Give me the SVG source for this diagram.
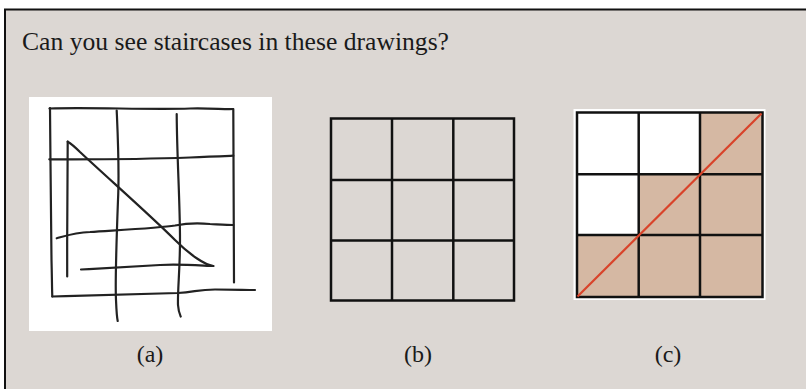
<svg xmlns="http://www.w3.org/2000/svg" width="806" height="389" viewBox="0 0 806 389">
<style>
.t{font-family:"Liberation Serif","Times New Roman",serif;fill:#1a1a1a}
.hand{fill:none;stroke:#222;stroke-width:2.2;stroke-linecap:round;stroke-linejoin:round}
.grid{fill:none;stroke:#111;stroke-width:2.5}
</style>
<rect x="0" y="0" width="806" height="389" fill="#ffffff"/>
<rect x="5" y="9.5" width="810" height="390" fill="#dcd7d3" stroke="#111" stroke-width="2"/>
<text class="t" x="22" y="49.5" font-size="24.5" textLength="427" lengthAdjust="spacingAndGlyphs">Can you see staircases in these drawings?</text>

<g id="panel-a">
<rect x="29" y="97" width="243" height="234" fill="#ffffff"/>
<path class="hand" d="M49.5,108.5 C90,107 150,110 190,108.5 C210,108 225,109.5 233,109"/>
<path class="hand" d="M50,108 C50.5,160 51,230 51.5,260 C52,280 52,290 52.3,296.5"/>
<path class="hand" d="M52.3,296.5 C100,295 150,294 178,293 C195,292 198,289.5 215,289.5 C235,289.5 245,290 255,290"/>
<path class="hand" d="M233.3,109 C233.5,160 234,220 234,282.5"/>
<path class="hand" d="M116.7,110.5 C118,140 119.5,170 118,200 C116.5,240 115,280 116,300 C116.5,312 117,318 117.7,321"/>
<path class="hand" d="M176.7,114 C177,160 180,200 180,240 C180,270 177.5,290 178,305 C178.5,312 180,315 180.7,316.5"/>
<path class="hand" d="M49.3,159.3 C100,159.5 150,159 190,157.5 C210,156.5 225,156 233.3,155.7"/>
<path class="hand" d="M56.7,238.3 C65,236 75,232.5 90,232 C120,230 160,228 175,225.5 C185,223.5 195,222.5 210,224 C220,224.5 228,225 233.3,225"/>
<path class="hand" d="M67.7,141.7 C67.5,180 67,230 67.2,276.5"/>
<path class="hand" d="M67.7,141.7 C72,144 75,147 80,152 C110,180 150,215 175,240 C190,255 205,265 213.3,266"/>
<path class="hand" d="M81,269.5 C110,268 140,266 160,265 C180,264 200,265.5 213.3,266"/>
</g>

<g id="panel-b">
<rect class="grid" x="331" y="118.5" width="183" height="182"/>
<line class="grid" x1="392" y1="118.5" x2="392" y2="300.5"/>
<line class="grid" x1="453.3" y1="118.5" x2="453.3" y2="300.5"/>
<line class="grid" x1="331" y1="180" x2="514" y2="180"/>
<line class="grid" x1="331" y1="240.5" x2="514" y2="240.5"/>
</g>

<g id="panel-c">
<rect x="573.5" y="109" width="192" height="191" fill="#ffffff"/>
<path d="M700,112.5 H762.5 V297 H577 V235 H638.7 V174.3 H700 Z" fill="#d5b8a3"/>
<rect class="grid" x="577" y="112.5" width="185.5" height="184.5"/>
<line class="grid" x1="638.7" y1="112.5" x2="638.7" y2="297"/>
<line class="grid" x1="700" y1="112.5" x2="700" y2="297"/>
<line class="grid" x1="577" y1="174.3" x2="762.5" y2="174.3"/>
<line class="grid" x1="577" y1="235" x2="762.5" y2="235"/>
<line x1="577.5" y1="296.5" x2="761.5" y2="113.5" stroke="#d9432a" stroke-width="2.2"/>
</g>

<g id="labels">
<text class="t" x="150" y="362" font-size="24" text-anchor="middle">(a)</text>
<text class="t" x="418" y="362" font-size="24" text-anchor="middle">(b)</text>
<text class="t" x="668" y="362" font-size="24" text-anchor="middle">(c)</text>
</g>
<g id="connectors"/>
</svg>
